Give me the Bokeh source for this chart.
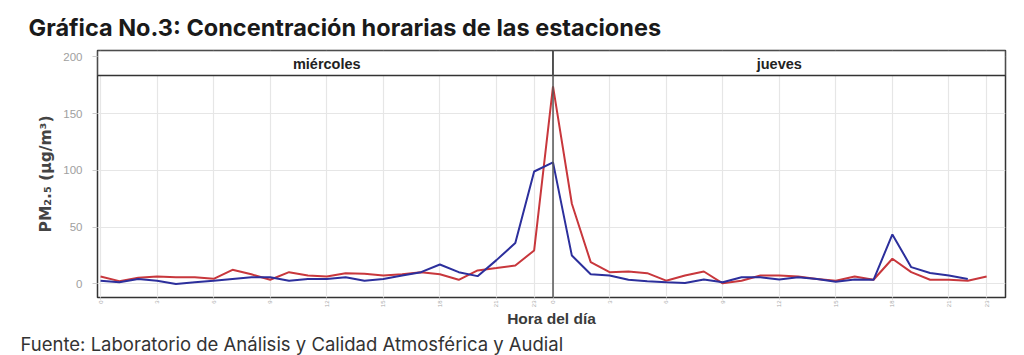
import math
from bokeh.plotting import figure
from bokeh.models import Title, FixedTicker, Span, ColumnDataSource, CustomJSTickFormatter
from bokeh.core.properties import value
from bokeh.embed import file_html
from bokeh.resources import INLINE

# Hour index across two days (0-23 = miércoles, 24-47 = jueves)
days = ["miércoles", "jueves"]
hours_red = list(range(0, 48))
red = [6.6, 2.5, 5.4, 6.5, 6.0, 6.0, 4.5, 12.5, 8.5, 3.7, 10.4, 7.5,
       6.6, 9.5, 9.0, 7.5, 8.5, 10.4, 8.5, 3.7, 11.9, 14.0, 16.3, 29.5,
       174.0, 70.6, 19.2, 10.4, 11.0, 9.5, 2.9, 7.4, 11.0, 0.6, 2.9, 7.4,
       7.4, 6.6, 4.4, 2.9, 6.6, 3.7, 22.2, 10.4, 3.7, 3.7, 2.9, 6.6]
hours_blue = list(range(0, 47))
blue = [2.9, 1.5, 4.4, 2.9, 0.0, 1.5, 2.9, 4.4, 5.9, 5.9, 2.9, 4.4,
        4.4, 5.9, 2.9, 4.4, 7.4, 10.4, 17.1, 10.4, 6.9, 21.0, 36.0, 99.0,
        107.0, 25.0, 8.5, 7.4, 3.7, 2.5, 1.5, 0.9, 4.0, 1.5, 5.9, 5.9,
        4.0, 5.9, 4.4, 2.0, 4.0, 3.7, 43.6, 14.8, 9.7, 7.4, 4.4]
x_ticks = [0, 3, 6, 9, 12, 15, 18, 21, 23, 24, 27, 30, 33, 36, 39, 42, 45, 47]
y_ticks = [0, 50, 100, 150, 200]

title_text = "Gráfica No.3: Concentración horarias de las estaciones"
source_text = "Fuente: Laboratorio de Análisis y Calidad Atmosférica y Audial"

RED = "#c8373c"
BLUE = "#2c2f9c"

p = figure(width=1024, height=355, output_backend="svg", toolbar_location=None,
           x_range=(-0.16, 48.0), y_range=(-11.9, 205.5),
           min_border_left=97, min_border_right=19, min_border_top=50, min_border_bottom=58)
p.background_fill_color = "white"
p.border_fill_color = "white"
p.outline_line_color = "#333333"
p.outline_line_width = 1.5

# grid
p.xgrid.ticker = FixedTicker(ticks=x_ticks)
p.ygrid.ticker = FixedTicker(ticks=y_ticks)
p.xgrid.grid_line_color = "#e6e6e6"
p.ygrid.grid_line_color = "#e6e6e6"
p.xgrid.grid_line_width = 1.2
p.ygrid.grid_line_width = 1.2

# axes
p.xaxis.ticker = FixedTicker(ticks=x_ticks)
p.xaxis.formatter = CustomJSTickFormatter(code="return String(tick % 24);")
p.xaxis.major_label_orientation = math.pi / 2
p.xaxis.major_label_text_font_size = "6px"
p.xaxis.major_label_text_color = "#aaaaaa"
p.xaxis.axis_line_color = None
p.xaxis.major_tick_line_color = "#cccccc"
p.xaxis.major_tick_out = 2
p.xaxis.major_tick_in = 0
p.xaxis.minor_tick_line_color = None
p.xaxis.major_label_standoff = 1
p.xaxis.axis_label = "Hora del día"
p.xaxis.axis_label_text_font = "Liberation Sans"
p.xaxis.axis_label_text_font_style = "bold"
p.xaxis.axis_label_text_font_size = "15.5px"
p.xaxis.axis_label_text_color = "#3a3a3a"
p.xaxis.axis_label_standoff = 0

p.yaxis.ticker = FixedTicker(ticks=y_ticks)
p.yaxis.major_label_text_font_size = "11.5px"
p.yaxis.major_label_text_font = "Liberation Sans"
p.yaxis.major_label_text_color = "#a0a0a0"
p.yaxis.axis_line_color = None
p.yaxis.major_tick_line_color = "#cccccc"
p.yaxis.major_tick_out = 5
p.yaxis.major_tick_in = 0
p.yaxis.minor_tick_line_color = None
p.yaxis.major_label_standoff = 10
p.yaxis.axis_label = "PM₂.₅ (µg/m³)"
p.yaxis.axis_label_text_font = "DejaVu Sans"
p.yaxis.axis_label_text_font_style = "bold"
p.yaxis.axis_label_text_font_size = "15.5px"
p.yaxis.axis_label_text_color = "#444444"
p.yaxis.axis_label_standoff = 5

# lines
p.line(hours_red, red, line_color=RED, line_width=2)
p.line(hours_blue, blue, line_color=BLUE, line_width=2)

# facet strips
strip = ColumnDataSource(dict(left=[-0.16, 24.0], right=[24.0, 48.0], label=days, cx=[12.0, 36.0]))
p.quad(left="left", right="right", bottom=183.5, top=205.5, source=strip,
       fill_color="white", line_color="#333333", line_width=1.5)
p.text(x="cx", y=194.0, text="label", source=strip, text_align="center", text_baseline="middle",
       text_font_size="14.5px", text_font_style="bold", text_color="#222222",
       text_font=value("Liberation Sans"))

# day divider
p.add_layout(Span(location=24.0, dimension="height", line_color="#555555", line_width=1.5))

# title and source
p.add_layout(Title(text=title_text, align="left", offset=-69, standoff=17,
                   text_font="Inter", text_font_style="bold", text_font_size="23.5px",
                   text_color="#1a1a1a"), "above")
p.add_layout(Title(text=source_text, align="left", offset=-77, standoff=0,
                   text_font="Inter", text_font_style="normal", text_font_size="18.5px",
                   text_color="#333333"), "below")

open("out.html", "w").write(file_html(p, INLINE))
